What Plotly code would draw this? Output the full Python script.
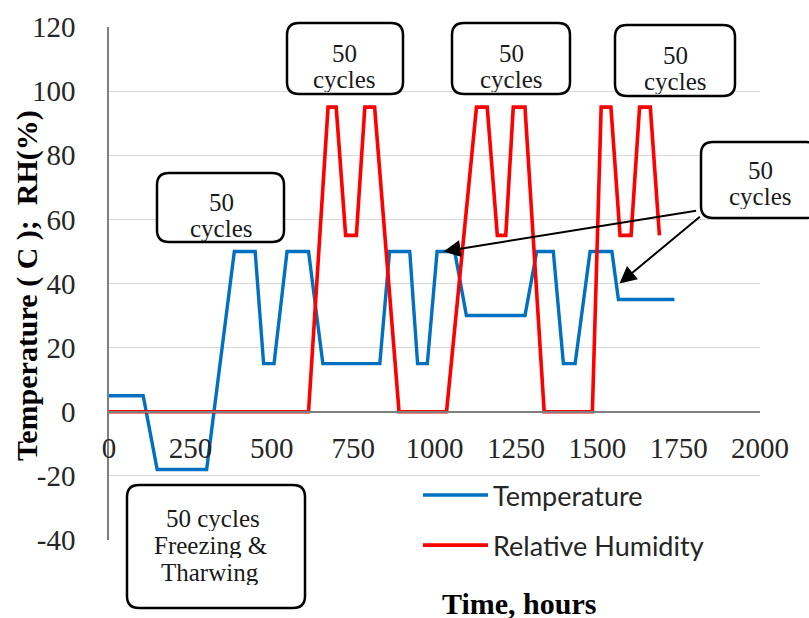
import plotly.graph_objects as go

# ---- data ----
temp_time = [0, 105, 148, 300, 385, 449, 475, 507, 547, 613, 657, 832, 862, 924,
             948, 978, 1008, 1062, 1098, 1278, 1314, 1365, 1396, 1432, 1478, 1545,
             1565, 1737]
temp_vals = [5, 5, -18, -18, 50, 50, 15, 15, 50, 50, 15, 15, 50, 50,
             15, 15, 50, 50, 30, 30, 50, 50, 15, 15, 50, 50,
             35, 35]
rh_time = [0, 613, 673, 698, 727, 760, 786, 816, 891, 1037, 1129, 1162, 1193,
           1219, 1242, 1278, 1337, 1485, 1512, 1542, 1570, 1604, 1630, 1663, 1691]
rh_vals = [0, 0, 95, 95, 55, 55, 95, 95, 0, 0, 95, 95, 55,
           55, 95, 95, 0, 0, 95, 95, 55, 55, 95, 95, 55]

x_ticks = [0, 250, 500, 750, 1000, 1250, 1500, 1750, 2000]
y_ticks = [-40, -20, 0, 20, 40, 60, 80, 100, 120]

box_lines = [
    ["50", "cycles"],
    ["50", "cycles"],
    ["50", "cycles"],
    ["50", "cycles"],
    ["50", "cycles"],
    ["50 cycles", "Freezing &amp;", "Tharwing"],
]

# ---- figure geometry (pixels) ----
W, H = 809, 618
L, R, T, B = 109, 760, 27, 540


def px(x):
    return (x - L) / (R - L)


def py(y):
    return (B - y) / (B - T)


def rounded_box(x0, y0, x1, y1, r=12):
    pts = [
        ("M", [(x0 + r, y0)]),
        ("L", [(x1 - r, y0)]),
        ("Q", [(x1, y0), (x1, y0 + r)]),
        ("L", [(x1, y1 - r)]),
        ("Q", [(x1, y1), (x1 - r, y1)]),
        ("L", [(x0 + r, y1)]),
        ("Q", [(x0, y1), (x0, y1 - r)]),
        ("L", [(x0, y0 + r)]),
        ("Q", [(x0, y0), (x0 + r, y0)]),
    ]
    s = ""
    for cmd, ps in pts:
        s += cmd + " " + " ".join(f"{px(a):.5f},{py(b):.5f}" for a, b in ps) + " "
    return s + "Z"


fig = go.Figure()
fig.add_trace(go.Scatter(x=temp_time, y=temp_vals, mode="lines", name="Temperature",
                         legendgroup="a",
                         line=dict(color="#0070C0", width=3.4)))
fig.add_trace(go.Scatter(x=rh_time, y=rh_vals, mode="lines", name="Relative Humidity",
                         legendgroup="b",
                         line=dict(color="#FF0000", width=3.6)))

serif = "Liberation Serif, Times New Roman, serif"

# boxes (pixel geometry) and their text line centres
boxes = [
    (157, 173, 284, 242),
    (287, 23, 403, 94),
    (452, 23, 570, 94),
    (615, 25, 735, 96),
    (701, 142, 818, 218),
    (127, 485, 305, 608),
]
line_centres = [
    [(221, 202), (221, 228)],
    [(344, 53), (344, 79)],
    [(511, 53), (511, 79)],
    [(675, 55), (675, 81)],
    [(760, 170), (760, 196)],
    [(213, 518), (210, 545), (210, 572)],
]

shapes = []
for (x0, y0, x1, y1) in boxes:
    shapes.append(dict(type="path", xref="paper", yref="paper",
                       path=rounded_box(x0, y0, x1, y1),
                       line=dict(color="black", width=2.5),
                       fillcolor="white", layer="above"))

annotations = []
for centres, lines in zip(line_centres, box_lines):
    for (cx, cy), txt in zip(centres, lines):
        annotations.append(dict(xref="paper", yref="paper", x=px(cx), y=py(cy),
                                text=txt, showarrow=False, xanchor="center",
                                yanchor="middle", height=25, borderpad=0,
                                font=dict(family=serif, size=25, color="#1a1a1a")))

# arrows from the right box
annotations.append(dict(xref="x", yref="y", x=1028, y=50, text="", showarrow=True,
                        ax=254, ay=-41, arrowhead=2, arrowsize=1.7, arrowwidth=2,
                        arrowcolor="black"))
annotations.append(dict(xref="x", yref="y", x=1568, y=40, text="", showarrow=True,
                        ax=82, ay=-68, arrowhead=2, arrowsize=1.7, arrowwidth=2,
                        arrowcolor="black"))

# axis titles
annotations.append(dict(xref="paper", yref="paper", x=px(519), y=py(603),
                        text="<b>Time, hours</b>", showarrow=False,
                        xanchor="center", yanchor="middle", height=30, borderpad=0,
                        font=dict(family=serif, size=30, color="black")))
annotations.append(dict(xref="paper", yref="paper", x=px(27), y=py(286),
                        text="<b>Temperature ( C );  RH(%)</b>", showarrow=False,
                        textangle=-90, xanchor="center", yanchor="middle",
                        font=dict(family=serif, size=30, color="black")))

fig.update_layout(
    width=W, height=H,
    margin=dict(l=L, r=W - R, t=T, b=H - B),
    paper_bgcolor="white", plot_bgcolor="white",
    shapes=shapes, annotations=annotations,
    showlegend=True,
    legend=dict(x=px(418), y=py(471), xanchor="left", yanchor="top",
                font=dict(family="Lato, sans-serif", size=27, color="#262626"),
                tracegroupgap=12, bgcolor="rgba(0,0,0,0)", itemwidth=65,
                traceorder="grouped"),
    xaxis=dict(range=[0, 2000], tickvals=x_ticks, ticktext=[str(v) for v in x_ticks],
               showgrid=False, zeroline=False, showline=True,
               linecolor="#7f7f7f", linewidth=1.5, automargin=False,
               anchor="free", position=py(412),
               ticks="outside", ticklen=10, tickcolor="rgba(0,0,0,0)",
               tickfont=dict(family=serif, size=29, color="#262626")),
    yaxis=dict(range=[-40, 120], tickvals=y_ticks, ticktext=[str(v) for v in y_ticks],
               showgrid=True, gridcolor="#D9D9D9", gridwidth=1, automargin=False,
               zeroline=False, showline=True, linecolor="#7f7f7f", linewidth=1.5,
               ticks="", ticklabelstandoff=26,
               tickfont=dict(family=serif, size=29, color="#262626")),
)

fig.write_html("out.html", config={"displayModeBar": False},
               post_script="document.body.style.margin='0';document.body.style.overflow='hidden';")
